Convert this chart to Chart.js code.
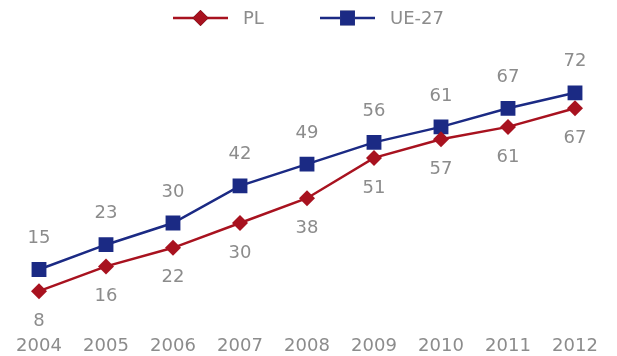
<!DOCTYPE html>
<html>
<head>
<meta charset="utf-8">
<script src="https://cdn.jsdelivr.net/npm/chart.js@4/dist/chart.umd.min.js"></script>
<style>
  html, body { margin: 0; padding: 0; background: #ffffff; }
  #wrap { width: 617px; height: 356px; }
</style>
</head>
<body>
<div id="wrap"><canvas id="c"></canvas></div>
<script>
const years = ['2004', '2005', '2006', '2007', '2008', '2009', '2010', '2011', '2012'];
const plValues = [8, 16, 22, 30, 38, 51, 57, 61, 67];
const ueValues = [15, 23, 30, 42, 49, 56, 61, 67, 72];
const seriesNames = ['PL', 'UE-27'];

const RED = '#a8121f';
const NAVY = '#1b2a84';
const GREY = '#8c8c8c';
const FONT = '"DejaVu Sans", sans-serif';

// Value labels: PL below its points, UE-27 above
const valueLabels = {
  id: 'valueLabels',
  afterDatasetsDraw(chart) {
    const ctx = chart.ctx;
    ctx.save();
    ctx.font = '18px ' + FONT;
    ctx.fillStyle = GREY;
    ctx.textAlign = 'center';
    ctx.textBaseline = 'middle';
    chart.data.datasets.forEach((ds, i) => {
      const meta = chart.getDatasetMeta(i);
      const dy = ds.labelSide === 'below' ? 30 : -31;
      meta.data.forEach((pt, j) => {
        ctx.fillText(String(ds.data[j]), pt.x, pt.y + dy);
      });
    });
    ctx.restore();
  }
};

// Legend with a line segment through the marker
const lineLegend = {
  id: 'lineLegend',
  afterDraw(chart) {
    const ctx = chart.ctx;
    const items = [
      { x: 173, ds: chart.data.datasets[0] },
      { x: 320, ds: chart.data.datasets[1] }
    ];
    const y = 18;
    ctx.save();
    items.forEach(it => {
      ctx.strokeStyle = it.ds.borderColor;
      ctx.lineWidth = 2.5;
      ctx.beginPath();
      ctx.moveTo(it.x, y);
      ctx.lineTo(it.x + 55, y);
      ctx.stroke();
      Chart.helpers.drawPoint(ctx, {
        pointStyle: it.ds.pointStyle,
        radius: it.ds.pointRadius,
        borderWidth: 0
      }, it.x + 27.5, y);
      ctx.fillStyle = it.ds.pointBackgroundColor;
      ctx.fill();
      ctx.font = '18px ' + FONT;
      ctx.fillStyle = GREY;
      ctx.textAlign = 'left';
      ctx.textBaseline = 'middle';
      ctx.fillText(it.ds.label, it.x + 70, y + 1);
    });
    ctx.restore();
  }
};

new Chart(document.getElementById('c'), {
  type: 'line',
  data: {
    labels: years,
    datasets: [
      {
        label: seriesNames[0],
        data: plValues,
        borderColor: RED,
        backgroundColor: RED,
        pointBackgroundColor: RED,
        pointBorderColor: RED,
        pointBorderWidth: 0,
        borderWidth: 2.5,
        pointStyle: 'rectRot',
        pointRadius: 8,
        pointHoverRadius: 8,
        tension: 0,
        labelSide: 'below'
      },
      {
        label: seriesNames[1],
        data: ueValues,
        borderColor: NAVY,
        backgroundColor: NAVY,
        pointBackgroundColor: NAVY,
        pointBorderColor: NAVY,
        pointBorderWidth: 0,
        borderWidth: 2.5,
        pointStyle: 'rect',
        pointRadius: 10.5,
        pointHoverRadius: 10.5,
        tension: 0,
        labelSide: 'above'
      }
    ]
  },
  options: {
    responsive: true,
    maintainAspectRatio: false,
    animation: false,
    events: [],
    layout: { autoPadding: false, padding: { top: 68, left: 39, right: 42, bottom: -20 } },
    plugins: {
      legend: { display: false },
      tooltip: { enabled: false }
    },
    scales: {
      x: {
        offset: false,
        grid: { display: false, drawTicks: false },
        border: { display: false },
        ticks: {
          color: GREY,
          font: { family: FONT, size: 18, lineHeight: 1 },
          padding: 21,
          maxRotation: 0,
          autoSkip: false
        },
        afterFit(scale) {
          // the outer year labels may overhang the plot area
          scale.paddingLeft = 0;
          scale.paddingRight = 0;
        }
      },
      y: {
        display: false,
        min: 0,
        max: 80
      }
    }
  },
  plugins: [valueLabels, lineLegend]
});
</script>
</body>
</html>
